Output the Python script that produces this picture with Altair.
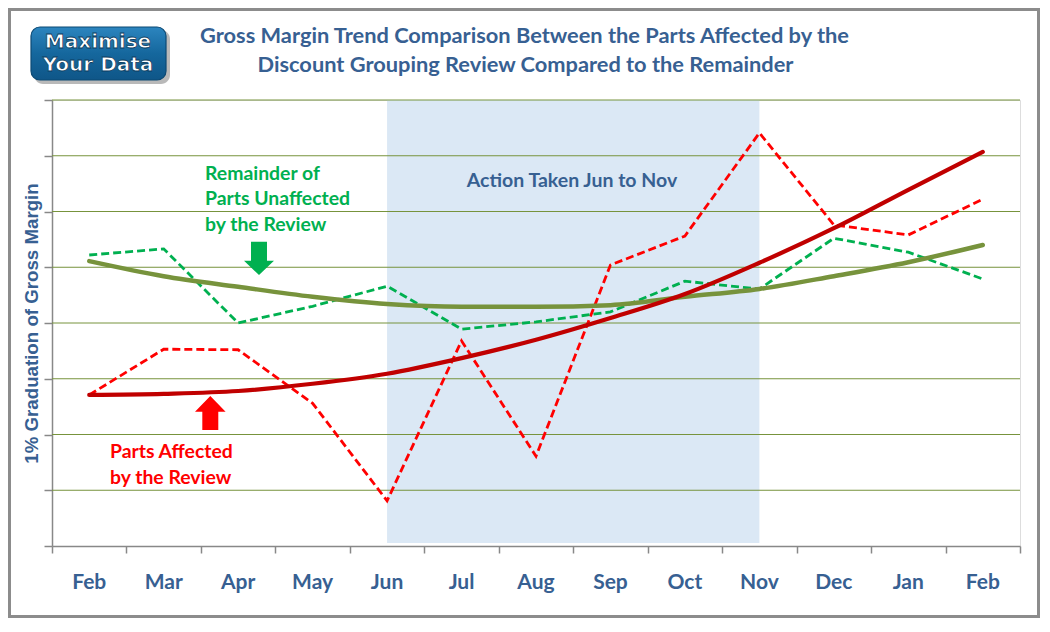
import altair as alt
import pandas as pd

# ---------------- data ----------------
months = ["Feb", "Mar", "Apr", "May", "Jun", "Jul", "Aug", "Sep", "Oct", "Nov", "Dec", "Jan", "Feb"]
affected_actual = [2.71, 3.53, 3.52, 2.56, 0.81, 3.68, 1.61, 5.04, 5.56, 7.41, 5.76, 5.58, 6.22]
remainder_actual = [5.22, 5.33, 4.00, 4.30, 4.66, 3.89, 4.02, 4.20, 4.75, 4.61, 5.52, 5.27, 4.79]
affected_trend = [2.71, 2.73, 2.78, 2.91, 3.09, 3.37, 3.70, 4.09, 4.52, 5.08, 5.70, 6.39, 7.07]
remainder_trend = [5.11, 4.84, 4.65, 4.47, 4.34, 4.29, 4.29, 4.32, 4.47, 4.61, 4.84, 5.09, 5.40]
grid_levels = [1, 2, 3, 4, 5, 6, 7, 8]
action_start, action_end = 4, 9          # Jun .. Nov (month index)

# ---------------- layout / style ----------------
W, H = 968, 446
BLUE = "#376092"
FONT = "Lato"

idx = list(range(len(months)))


def series_df(vals):
    return pd.DataFrame({"idx": idx, "value": vals})


xscale = alt.Scale(domain=[-0.5, len(months) - 0.5], nice=False, zero=False)
yscale = alt.Scale(domain=[0, 8], nice=False, zero=False)
x_axis = alt.Axis(values=[i - 0.5 for i in range(len(months) + 1)], labels=False, ticks=True,
                  tickSize=7, tickColor="#888888", tickWidth=1.5, domainColor="#888888",
                  domainWidth=1.5, grid=False, title=None)
y_axis = alt.Axis(values=list(range(0, 9)), labels=False, ticks=True, tickSize=8,
                  tickColor="#888888", tickWidth=1.5, domainColor="#888888", domainWidth=1.5,
                  grid=False, title="1% Graduation of Gross Margin", titleFont="Liberation Sans",
                  titleFontSize=18.7, titleFontWeight="bold", titleColor=BLUE, titlePadding=2)


def X(field):
    return alt.X(f"{field}:Q", scale=xscale, axis=x_axis)


def Y(field):
    return alt.Y(f"{field}:Q", scale=yscale, axis=y_axis)


one = pd.DataFrame({"k": [0]})

# outer frame
frame = alt.Chart(one).mark_rect(fill="transparent", stroke="#8c8c8c", strokeWidth=3).encode(
    x=alt.value(-42.5), x2=alt.value(W + 20 - 1.5), y=alt.value(-90.5), y2=alt.value(H + 72 - 1.5))

# logo
logo_shadow = alt.Chart(one).mark_rect(fill="#7f7f7f", opacity=0.55, cornerRadius=9).encode(
    x=alt.value(-18), x2=alt.value(118), y=alt.value(-70), y2=alt.value(-16))
logo_box = alt.Chart(one).mark_rect(
    fill=alt.Gradient(gradient="linear", x1=0, y1=0, x2=0, y2=1,
                      stops=[alt.GradientStop(color="#2c85bf", offset=0),
                             alt.GradientStop(color="#15679d", offset=0.5),
                             alt.GradientStop(color="#0f5688", offset=1)]),
    stroke="#0c4a75", strokeWidth=1.2, cornerRadius=9).encode(
    x=alt.value(-21), x2=alt.value(114), y=alt.value(-73), y2=alt.value(-20))
logo_t1 = alt.Chart(one).mark_text(text="Maximise", font="DejaVu Sans", fontWeight="bold", fontSize=20,
                                   color="white", stroke="#0b3c60", strokeWidth=0.8,
                                   align="center", baseline="middle").encode(
    x=alt.value(46), y=alt.value(-58))
logo_t2 = alt.Chart(one).mark_text(text="Your Data", font="DejaVu Sans", fontWeight="bold", fontSize=20,
                                   color="white", stroke="#0b3c60", strokeWidth=0.8,
                                   align="center", baseline="middle").encode(
    x=alt.value(46), y=alt.value(-35))

# title
title1 = alt.Chart(one).mark_text(text="Gross Margin Trend Comparison  Between the Parts Affected by the",
                                  font=FONT, fontWeight="bold", fontSize=21.8, color=BLUE,
                                  align="center", baseline="middle").encode(
    x=alt.value(472.5), y=alt.value(-64))
title2 = alt.Chart(one).mark_text(text="Discount Grouping  Review Compared to the Remainder",
                                  font=FONT, fontWeight="bold", fontSize=21.8, color=BLUE,
                                  align="center", baseline="middle").encode(
    x=alt.value(473.5), y=alt.value(-35))

# shaded action period
shade = alt.Chart(pd.DataFrame({"start": [action_start], "end": [action_end]})).mark_rect(
    color="#dbe8f5").encode(x=X("start"), x2="end:Q", y=alt.value(0), y2=alt.value(H - 3))

# gridlines
grid = alt.Chart(pd.DataFrame({"level": grid_levels})).mark_rule(
    color="#77933c", strokeWidth=1).encode(y=Y("level"), x=alt.value(0), x2=alt.value(W))

# series
red_dash = alt.Chart(series_df(affected_actual)).mark_line(
    color="#ff0000", strokeWidth=2.8, strokeDash=[8, 4]).encode(x=X("idx"), y=Y("value"))
green_dash = alt.Chart(series_df(remainder_actual)).mark_line(
    color="#00b050", strokeWidth=2.8, strokeDash=[8, 4]).encode(x=X("idx"), y=Y("value"))
green_trend = alt.Chart(series_df(remainder_trend)).mark_line(
    color="#77933c", strokeWidth=4.5, interpolate="monotone", strokeCap="round").encode(
    x=X("idx"), y=Y("value"))
red_trend = alt.Chart(series_df(affected_trend)).mark_line(
    color="#c00000", strokeWidth=4.2, interpolate="monotone", strokeCap="round").encode(
    x=X("idx"), y=Y("value"))

# month labels
month_labels = alt.Chart(pd.DataFrame({"idx": idx, "month": months})).mark_text(
    font=FONT, fontWeight="bold", fontSize=21, color=BLUE, baseline="middle", align="center").encode(
    x=X("idx"), y=alt.value(H + 37), text="month:N")

# annotations
action_txt = alt.Chart(one).mark_text(text="Action Taken Jun to Nov", font=FONT, fontWeight="bold",
                                      fontSize=19.5, color=BLUE, align="center", baseline="middle").encode(
    x=alt.value(520), y=alt.value(81))


def note(text, x, y, color):
    return alt.Chart(one).mark_text(text=text, font=FONT, fontWeight="bold", fontSize=19.4,
                                    color=color, align="left", baseline="middle").encode(
        x=alt.value(x), y=alt.value(y))


green_notes = [note("Remainder of", 153, 74, "#00b050"),
               note("Parts Unaffected", 153, 99, "#00b050"),
               note("by the Review", 153, 125, "#00b050")]
red_notes = [note("Parts Affected", 58, 352, "#ff0000"),
             note("by the Review", 58, 378, "#ff0000")]

down_arrow = "M-0.48,-1L0.48,-1L0.48,0.14L0.9,0.14L0,1L-0.9,0.14L-0.48,0.14Z"
up_arrow = "M0,-1L0.9,-0.08L0.47,-0.08L0.47,1L-0.47,1L-0.47,-0.08L-0.9,-0.08Z"
green_arrow = alt.Chart(one).mark_point(shape=down_arrow, filled=True, size=1109, color="#00b050",
                                        opacity=1, strokeWidth=0).encode(
    x=alt.value(207), y=alt.value(158.4))
red_arrow = alt.Chart(one).mark_point(shape=up_arrow, filled=True, size=1156, color="#ff0000",
                                      opacity=1, strokeWidth=0).encode(
    x=alt.value(158.3), y=alt.value(313))

chart = alt.layer(
    shade, grid, red_dash, green_dash, green_trend, red_trend, month_labels,
    frame, logo_shadow, logo_box, logo_t1, logo_t2, title1, title2,
    action_txt, *green_notes, *red_notes, green_arrow, red_arrow
).properties(
    width=W, height=H,
    autosize=alt.AutoSizeParams(type="none"),
    padding={"left": 44, "top": 92, "right": 20, "bottom": 72},
    background="white",
).configure_view(stroke=None).configure(font=FONT)

chart.save("out.html", embed_options={"renderer": "svg", "actions": False})
